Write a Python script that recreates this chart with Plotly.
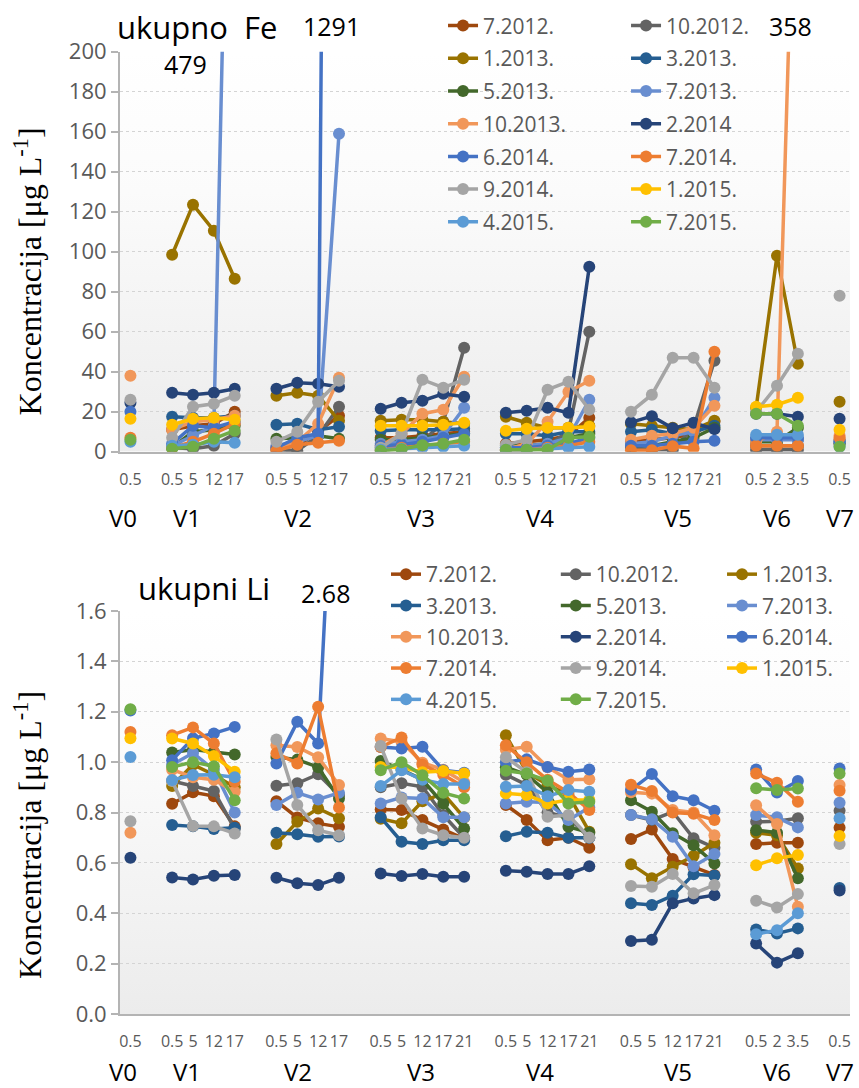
import base64
import plotly.graph_objects as go

# Sampling stations and depths (m)
STATIONS = ["V0", "V1", "V2", "V3", "V4", "V5", "V6", "V7"]
DEPTHS = [
    ["0.5"],
    ["0.5", "5", "12", "17"],
    ["0.5", "5", "12", "17"],
    ["0.5", "5", "12", "17", "21"],
    ["0.5", "5", "12", "17", "21"],
    ["0.5", "5", "12", "17", "21"],
    ["0.5", "2", "3.5"],
    ["0.5"],
]

CAMPAIGNS = ["7.2012.", "10.2012.", "1.2013.", "3.2013.", "5.2013.", "7.2013.", "10.2013.",
             "2.2014", "6.2014.", "7.2014.", "9.2014.", "1.2015.", "4.2015.", "7.2015."]
LI_CAMPAIGNS = CAMPAIGNS[:7] + ["2.2014."] + CAMPAIGNS[8:]
COLORS = ["#9E480E", "#636363", "#997300", "#255E91", "#43682B", "#698ED0", "#F1975A",
          "#264478", "#4472C4", "#ED7D31", "#A5A5A5", "#FFC000", "#5B9BD5", "#70AD47"]

N = None
# total Fe [ug/L]: V0 | V1 | V2 | V3 | V4 | V5 | V6 | V7
fe_2012_07 = [N, 11, 13, 14, 20, 2, 3, 10, 18, 7, 7, 8, 9, 10, 4, 5, 6, 8, 17, 5, 6, 7, 9, 15, 3, 3, 3, 6]
fe_2012_10 = [N, 2, 1.5, 3, 9, 1, 0.5, 8, 22.5, 2, 3, 5, 15, 52, 2, 2, 3, 10, 60, 2, 1, 1, 12, 45.5, 1, 1, 1, 4]
fe_2013_01 = [N, 98.5, 123.5, 110.5, 86.5, 28, 29.5, 28, 15.5, 15.5, 16, 16, 15, 14, 17.5, 14.5, 12, 12, 13,
              14, 13, 12, 11, 15.5, 22, 98, 44, 25]
fe_2013_03 = [N, 17.5, 17, 17, 18, 13.5, 14, 11, 12.5, 10.5, 11, 11, 11, 11.5, 9, 9, 8, 10, 10,
              10, 11, 9, 10, 13, 6, 7, 6, 5]
fe_2013_05 = [N, 2, 10, 11, 13, 6.5, 7, 8, 6.5, 6, 6, 7, 8, 9, 3, 3, 4, 7, 9, 3, 3, 5, 7, 12, 5, 5, 12, 4]
fe_2013_07 = [N, 3, 8, 13, 479, 3, 5, 8, 159, 4, 5, 6, 8, 22, 2, 3, 4, 7, 26, 4, 5, 8, 10, 27, 6, 6, 6, 5]
fe_2013_10 = [38, 11, 15, 16, 18, 2, 5, 14, 37, 3, 9, 19, 21, 37.5, 1, 4, 15, 30, 35.5, 6, 8, 9, 12, 23,
              5, 10, 358, 8]
fe_2014_02 = [24.5, 29.5, 28.5, 29.5, 31.5, 31.5, 34.5, 34, 32.5, 21.5, 24.5, 25.5, 29, 27.5,
              19.5, 20.5, 22, 19.5, 92.5, 14.7, 17.8, 11.7, 14.5, 11.3, 19, 19, 17.5, 16.5]
fe_2014_06 = [20, 4, 13, 12, 15, 2, 7, 9, 1291, 3, 3.5, 5, 7, 9, 2, 2, 3, 4, 7, 3, 3, 4, 5, 5.5, 7, 7, 7, 5]
fe_2014_07 = [7, 2, 5, 9, 14, 0.5, 3.5, 4.5, 5.5, 1, 2, 3, 4, 5, 1, 1, 2, 3, 5, 0.8, 0.8, 2.8, 1.7, 50,
              3, 3, 3, 7]
fe_2014_09 = [26, 7, 22.5, 24, 28, 5, 10, 25, 35.5, 2, 9, 36, 32, 36, 3.5, 6, 31, 35, 21,
              20, 28.5, 47, 47, 32, 20, 33, 49, 78]
fe_2015_01 = [16.5, 13.5, 16.5, 17, 16, N, N, N, N, 13, 13, 13, 13.5, 14.5, 10.5, 11.5, 12, 12, 12.5,
              N, N, N, N, N, 22.5, 23.5, 27, 11]
fe_2015_04 = [5, 3, 3.5, 5, 4.5, N, N, N, N, 1, 1.5, 2, 2.5, 3, 1, 1, 1.5, 2, 2.5, N, N, N, N, N,
              8.5, 8.5, 8.5, 2.5]
fe_2015_07 = [6, 1.5, 2.5, 6.5, 10.5, N, N, N, N, 0.5, 1.2, 3.3, 4, 6, 1, 1, 1, 7, 7.5, N, N, N, N, N,
              19, 19, 13, 2.5]

# total Li [ug/L]
li_2012_07 = [N, 0.835, 0.88, 0.865, 0.745, 0.845, 0.78, 0.757, 0.743, 0.812, 0.81, 0.77, 0.733, 0.695,
              0.83, 0.77, 0.69, 0.70, 0.66, 0.695, 0.733, 0.615, 0.583, 0.552, 0.675, 0.68, 0.68, 0.74]
li_2012_10 = [N, 0.925, 0.905, 0.885, 0.735, 0.906, 0.916, 0.952, 0.87, 0.90, 0.916, 0.902, 0.79, 0.70,
              0.95, 0.91, 0.80, 0.78, 0.70, 0.79, 0.77, 0.803, 0.698, 0.66, 0.763, 0.765, 0.777, 0.807]
li_2013_01 = [N, 0.905, 0.99, 0.95, 0.90, 0.675, 0.763, 0.816, 0.777, 0.775, 0.757, 0.845, 0.875, 0.78,
              1.107, 0.96, 0.91, 0.87, 0.724, 0.595, 0.539, 0.585, 0.627, 0.68, 0.72, 0.71, 0.578, N]
li_2013_03 = [N, 0.75, 0.745, 0.735, 0.74, 0.72, 0.714, 0.704, 0.705, 0.781, 0.684, 0.675, 0.69, 0.69,
              0.706, 0.724, 0.72, 0.70, 0.70, 0.44, 0.433, 0.47, 0.555, 0.55, 0.336, 0.32, 0.34, 0.50]
li_2013_05 = [N, 1.038, 1.05, 1.04, 1.03, 1.02, 1.01, 0.98, 0.856, 1.005, 0.97, 0.93, 0.836, 0.737,
              0.98, 0.95, 0.88, 0.743, 0.72, 0.849, 0.803, 0.718, 0.67, 0.598, 0.73, 0.72, 0.539, N]
li_2013_07 = [N, 0.99, 1.036, 0.97, 0.80, 0.83, 0.878, 0.852, 0.878, 0.836, 0.86, 0.856, 0.781, 0.781,
              0.836, 0.843, 0.84, 0.77, 0.82, 0.79, 0.773, 0.704, 0.587, 0.635, 0.79, 0.781, 0.741, 0.839]
li_2013_10 = [0.72, 0.97, 0.94, 0.93, 0.882, 1.067, 1.06, 1.019, 0.909, 1.094, 1.08, 0.998, 0.97, 0.92,
              1.05, 1.061, 0.98, 0.93, 0.932, 0.88, 0.875, 0.81, 0.80, 0.71, 0.829, 0.754, 0.426, 0.909]
li_2014_02 = [0.62, 0.542, 0.534, 0.549, 0.552, 0.541, 0.519, 0.512, 0.541, 0.558, 0.548, 0.556, 0.545,
              0.545, 0.569, 0.565, 0.556, 0.556, 0.587, 0.29, 0.295, 0.44, 0.459, 0.472, 0.28, 0.204,
              0.241, 0.49]
li_2014_06 = [1.205, 1.008, 1.095, 1.114, 1.14, 0.995, 1.16, 1.074, 2.68, 1.06, 1.054, 1.061, 0.968, 0.958,
              1.0, 1.011, 0.981, 0.962, 0.971, 0.89, 0.953, 0.865, 0.849, 0.807, 0.971, 0.879, 0.925, 0.975]
li_2014_07 = [1.12, 1.107, 1.138, 1.074, 0.922, 1.035, 0.995, 1.22, 0.82, 1.06, 1.098, 0.99, 0.95, 0.90,
              1.067, 1.0, 0.93, 0.88, 0.81, 0.91, 0.885, 0.80, 0.795, 0.77, 0.955, 0.918, 0.843, 0.886]
li_2014_09 = [0.765, 0.925, 0.746, 0.745, 0.717, 1.09, 0.83, 0.73, 0.71, 1.064, 0.856, 0.737, 0.71, 0.70,
              1.019, 0.96, 0.783, 0.79, 0.701, 0.508, 0.505, 0.556, 0.479, 0.512, 0.45, 0.423, 0.476, 0.675]
li_2015_01 = [1.095, 1.094, 1.074, 1.024, 0.962, N, N, N, N, 0.981, 0.98, 0.96, 0.965, 0.955,
              0.876, 0.87, 0.836, 0.85, 0.85, N, N, N, N, N, 0.591, 0.618, 0.631, 0.707]
li_2015_04 = [1.02, 0.929, 0.949, 0.95, 0.94, N, N, N, N, 0.905, 0.968, 0.93, 0.913, 0.913,
              0.902, 0.905, 0.865, 0.889, 0.882, N, N, N, N, N, 0.317, 0.333, 0.40, 0.777]
li_2015_07 = [1.21, 0.981, 1.0, 0.984, 0.849, N, N, N, N, 0.968, 1.0, 0.948, 0.878, 0.856,
              0.966, 0.955, 0.926, 0.836, 0.843, N, N, N, N, N, 0.896, 0.889, 0.895, 0.955]

FE = [fe_2012_07, fe_2012_10, fe_2013_01, fe_2013_03, fe_2013_05, fe_2013_07, fe_2013_10,
      fe_2014_02, fe_2014_06, fe_2014_07, fe_2014_09, fe_2015_01, fe_2015_04, fe_2015_07]
LI = [li_2012_07, li_2012_10, li_2013_01, li_2013_03, li_2013_05, li_2013_07, li_2013_10,
      li_2014_02, li_2014_06, li_2014_07, li_2014_09, li_2015_01, li_2015_04, li_2015_07]

# category slots: one empty slot between stations so the lines break there
slot_x, tick_text, gap_after = [], [], []
pos = 0
for depths in DEPTHS:
    for d in depths:
        slot_x.append(pos)
        tick_text.append(d)
        pos += 1
    gap_after.append(len(slot_x))
    pos += 1
N_SLOTS = pos - 1          # 35 slots, indices 0 .. 34


def with_breaks(values):
    xs, ys = [], []
    for i, (x, v) in enumerate(zip(slot_x, values)):
        xs.append(x)
        ys.append(v)
        if i + 1 in gap_after:
            xs.append(x + 1)
            ys.append(None)
    return xs, ys


STATION_LABEL_X = [-0.38, 2.73, 8.05, 13.95, 19.66, 26.23, 30.98, 34.0]

FONT = "Open Sans"
SERIF = "Times New Roman, Liberation Serif, serif"
GREY_TXT = "#595959"
AXIS_GREY = "#b4b4b4"

fig = go.Figure()

fe_legends = ["legend", "legend2"]
li_legends = ["legend3", "legend4", "legend5"]
for i, (name, col) in enumerate(zip(CAMPAIGNS, COLORS)):
    xs, ys = with_breaks(FE[i])
    fig.add_trace(go.Scatter(
        x=xs, y=ys, name=name, mode="lines+markers", xaxis="x", yaxis="y",
        line=dict(color=col, width=3.5), marker=dict(color=col, size=12),
        legend=fe_legends[i % 2], legendgroup="fe" + name, connectgaps=False))
for i, (name, col) in enumerate(zip(LI_CAMPAIGNS, COLORS)):
    xs, ys = with_breaks(LI[i])
    fig.add_trace(go.Scatter(
        x=xs, y=ys, name=name, mode="lines+markers", xaxis="x2", yaxis="y2",
        line=dict(color=col, width=3.5), marker=dict(color=col, size=12),
        legend=li_legends[i % 3], legendgroup="li" + name, connectgaps=False))

X_RANGE = [-0.5, N_SLOTS - 0.5]

# soft vertical gradient behind the plot areas
svg = ('<svg xmlns="http://www.w3.org/2000/svg" width="10" height="100" viewBox="0 0 10 100" '
       'preserveAspectRatio="none"><defs><linearGradient id="g" x1="0" y1="0" x2="0" y2="1">'
       '<stop offset="0" stop-color="#ffffff"/><stop offset="0.35" stop-color="#fbfbfb"/>'
       '<stop offset="1" stop-color="#ececec"/></linearGradient></defs>'
       '<rect width="10" height="100" fill="url(#g)"/></svg>')
bg_src = "data:image/svg+xml;base64," + base64.b64encode(svg.encode()).decode()
FE_MAX, LI_MAX = 200, 1.6
images = [
    dict(source=bg_src, xref="x", yref="y", x=X_RANGE[0], y=FE_MAX, sizex=N_SLOTS, sizey=FE_MAX,
         sizing="stretch", layer="below", xanchor="left", yanchor="top"),
    dict(source=bg_src, xref="x2", yref="y2", x=X_RANGE[0], y=LI_MAX, sizex=N_SLOTS, sizey=LI_MAX,
         sizing="stretch", layer="below", xanchor="left", yanchor="top"),
]

xaxis_common = dict(range=X_RANGE, tickmode="array", tickvals=slot_x, ticktext=tick_text,
                    tickangle=0, tickfont=dict(family=FONT, size=16, color=GREY_TXT),
                    showgrid=False, zeroline=False, showline=True, linecolor=AXIS_GREY, linewidth=2,
                    ticks="", ticklabelstandoff=12, automargin=False)
yaxis_common = dict(showgrid=True, gridcolor="#d4d4d4", griddash="dot", gridwidth=1, zeroline=False,
                    showline=True, linecolor=AXIS_GREY, linewidth=2, ticks="outside", ticklen=7,
                    tickcolor=AXIS_GREY, tickwidth=2, automargin=False,
                    tickfont=dict(family=FONT, size=22, color=GREY_TXT))


def note(text, x, y, xref="paper", yref="paper", **kw):
    return dict(x=x, y=y, xref=xref, yref=yref, text=text, showarrow=False,
                xanchor="center", yanchor="middle", **kw)


annotations = []
for lx, st in zip(STATION_LABEL_X, STATIONS):
    for yp in (0.5248, 0.0156):
        annotations.append(note(st, lx, yp, xref="x", font=dict(family=FONT, size=24, color="black")))

ytitle = "Koncentracija [μg L<sup>-1</sup>]"
for yp in (0.7505, 0.2325):
    annotations.append(note(ytitle, -0.126, yp, textangle=-90,
                            font=dict(family=SERIF, size=32, color="black")))

big = dict(family=FONT, size=31, color="black")
num = dict(family=FONT, size=25, color="black")
annotations += [
    note("ukupno\u00a0\u00a0Fe", 0.105, 0.975, font=big),
    note("ukupni Li", 0.115, 0.4596, font=big),
    # values of points beyond the axis range
    note(f"{fe_2013_07[4]:g}", 2.64, 0.9412, xref="x", font=num),
    note(f"{fe_2014_06[8]:g}", 9.62, 0.976, xref="x", font=num),
    note(f"{fe_2013_10[26]:g}", 31.63, 0.976, xref="x", font=num),
    note(f"{li_2014_06[8]:.2f}", 9.33, 0.455, xref="x2", font=num),
]

legend_common = dict(bgcolor="rgba(0,0,0,0)", borderwidth=0, orientation="v", xanchor="left",
                     yanchor="top", itemwidth=30, traceorder="grouped",
                     font=dict(family=FONT, size=21, color=GREY_TXT))
fig.update_layout(
    template="none",
    width=859, height=1088,
    margin=dict(l=120, r=9, t=0, b=0, autoexpand=False),
    paper_bgcolor="white", plot_bgcolor="rgba(0,0,0,0)",
    showlegend=True,
    xaxis=dict(anchor="y", domain=[0, 1], **xaxis_common),
    xaxis2=dict(anchor="y2", domain=[0, 1], **xaxis_common),
    yaxis=dict(anchor="x", domain=[0.5848, 0.9525], range=[0, FE_MAX], dtick=20, **yaxis_common),
    yaxis2=dict(anchor="x2", domain=[0.068, 0.4384], range=[0, LI_MAX], dtick=0.2, tickformat=".1f",
                **yaxis_common),
    legend=dict(x=0.4425, y=0.995, tracegroupgap=2.4, **legend_common),
    legend2=dict(x=0.6932, y=0.995, tracegroupgap=2.4, **legend_common),
    legend3=dict(x=0.3644, y=0.4908, tracegroupgap=1, **legend_common),
    legend4=dict(x=0.597, y=0.4908, tracegroupgap=1, **legend_common),
    legend5=dict(x=0.8247, y=0.4908, tracegroupgap=1, **legend_common),
    images=images,
    annotations=annotations,
)

fig.write_html("out.html")
